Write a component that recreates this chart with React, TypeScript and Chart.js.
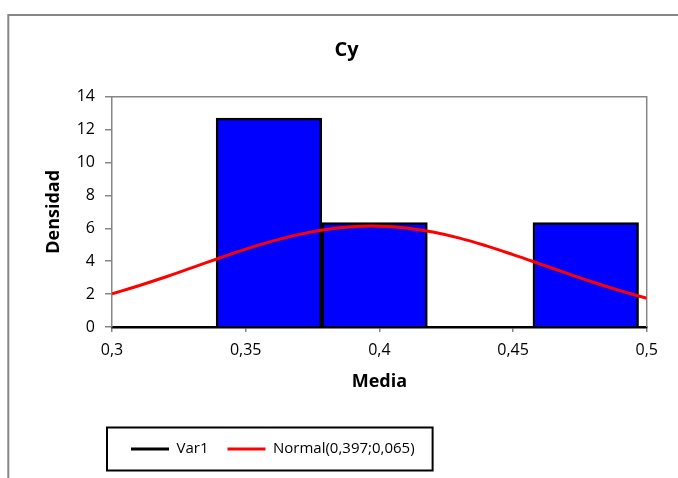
import React, { useEffect, useRef } from "react";
import { Chart, registerables } from "chart.js";

Chart.register(...registerables);

// ---- data ----
const chartTitle = "Cy";
const xAxisTitle = "Media";
const yAxisTitle = "Densidad";
const binCenters = [0.3587, 0.3982, 0.4772];
const binDensity = [12.7, 6.35, 6.35];
const normalX = [0.3, 0.31, 0.32, 0.33, 0.34, 0.35, 0.36, 0.37, 0.38, 0.39, 0.4, 0.41, 0.42, 0.43, 0.44, 0.45, 0.46, 0.47, 0.48, 0.49, 0.5];
const normalY = [2.02, 2.51, 3.04, 3.61, 4.18, 4.73, 5.22, 5.63, 5.93, 6.1, 6.13, 6.02, 5.77, 5.4, 4.93, 4.4, 3.84, 3.27, 2.72, 2.21, 1.75];
const xTickValues = [0.3, 0.35, 0.4, 0.45, 0.5];
const xTickLabels = ["0,3", "0,35", "0,4", "0,45", "0,5"];
const seriesNames = ["Var1", "Normal(0,397;0,065)"];
const seriesColors = ["#000000", "#FF0000"];

const GRAY = "#868686";

const decorPlugin = {
  id: "decor",
  beforeDraw(chart: any) {
    const ctx = chart.ctx;
    ctx.save();
    ctx.fillStyle = "#ffffff";
    ctx.fillRect(0, 0, chart.width, chart.height);
    ctx.strokeStyle = GRAY;
    ctx.lineWidth = 2;
    ctx.beginPath();
    ctx.moveTo(8.3, chart.height);
    ctx.lineTo(8.3, 15);
    ctx.lineTo(chart.width, 15);
    ctx.stroke();
    ctx.restore();
  },
  beforeDatasetsDraw(chart: any) {
    const { left, top, right, bottom } = chart.chartArea;
    const ctx = chart.ctx;
    ctx.save();
    ctx.strokeStyle = GRAY;
    ctx.lineWidth = 1.5;
    ctx.beginPath();
    ctx.moveTo(left, top);
    ctx.lineTo(right, top);
    ctx.lineTo(right, bottom);
    ctx.stroke();
    ctx.restore();
  },
  afterDraw(chart: any) {
    const lg = chart.legend;
    if (!lg || !lg.legendHitBoxes || !lg.legendHitBoxes.length) return;
    const hb = lg.legendHitBoxes;
    const first = hb[0];
    const last = hb[hb.length - 1];
    const x0 = first.left - 24;
    const x1 = last.left + last.width + 18;
    const y0 = first.top - 14;
    const y1 = first.top + first.height + 14;
    const ctx = chart.ctx;
    ctx.save();
    ctx.strokeStyle = "#000";
    ctx.lineWidth = 2;
    ctx.strokeRect(x0, y0, x1 - x0, y1 - y0);
    ctx.restore();
  },
};

export default function App() {
  const ref = useRef<HTMLCanvasElement | null>(null);

  useEffect(() => {
    if (!ref.current) return;
    Chart.defaults.font.family = "'Open Sans', sans-serif";
    const chart = new Chart(ref.current, {
      data: {
        datasets: [
          {
            type: "line",
            label: seriesNames[1],
            data: normalX.map((x, i) => ({ x, y: normalY[i] })),
            borderColor: seriesColors[1],
            borderWidth: 3,
            pointRadius: 0,
            tension: 0.4,
            fill: false,
            order: 0,
          } as any,
          {
            type: "bar",
            label: seriesNames[0],
            data: binCenters.map((x, i) => ({ x, y: binDensity[i] })),
            backgroundColor: "#0000FF",
            borderColor: "#000000",
            borderWidth: 2.5,
            borderSkipped: "bottom",
            barPercentage: 1,
            categoryPercentage: 1,
            grouped: false,
            order: 1,
          } as any,
        ],
      },
      options: {
        responsive: false,
        animation: false,
        layout: { padding: { left: 15, right: 0, top: 0, bottom: 11.5 } },
        plugins: {
          tooltip: { enabled: false },
          title: {
            display: true,
            text: chartTitle,
            color: "#000",
            font: { size: 20, weight: "bold" },
            padding: { top: 38.5, bottom: 34.2 },
            fullSize: true,
          },
          legend: {
            display: true,
            position: "bottom",
            align: "start",
            fullSize: false,
            labels: {
              boxWidth: 38,
              boxHeight: 3,
              padding: 19,
              color: "#000",
              font: { size: 15 },
              generateLabels: () =>
                seriesNames.map((name, i) => ({
                  text: name,
                  fillStyle: seriesColors[i],
                  strokeStyle: seriesColors[i],
                  lineWidth: 0,
                  hidden: false,
                  datasetIndex: i,
                })),
            },
          },
        },
        scales: {
          x: {
            type: "linear",
            position: "bottom",
            min: 0.3,
            max: 0.5,
            offset: false,
            afterBuildTicks: (s: any) => {
              s.ticks = xTickValues.map((v) => ({ value: v }));
            },
            afterFit: (s: any) => {
              s.height = 95.5;
            },
            ticks: {
              autoSkip: false,
              maxRotation: 0,
              padding: 9,
              color: "#000",
              font: { size: 16 },
              callback: (_v: any, i: number) => xTickLabels[i],
            },
            grid: { drawOnChartArea: false, drawTicks: true, tickLength: 5, color: GRAY, lineWidth: 1.5, offset: false },
            border: { color: "#000", width: 2.5 },
            title: {
              display: true,
              text: xAxisTitle,
              color: "#000",
              font: { size: 18, weight: "bold" },
              padding: { top: 0, bottom: 29.7 },
            },
          },
          y: {
            type: "linear",
            position: "left",
            min: 0,
            max: 14,
            afterFit: (s: any) => {
              s.width = 97;
            },
            ticks: { stepSize: 2, padding: 10, color: "#000", font: { size: 16 } },
            grid: { drawOnChartArea: false, drawTicks: true, tickLength: 7, color: GRAY, lineWidth: 1.5 },
            border: { color: GRAY, width: 1.5 },
            title: {
              display: true,
              text: yAxisTitle,
              color: "#000",
              font: { size: 18, weight: "bold" },
              padding: { top: 28.2, bottom: 0 },
            },
          },
          y2: {
            type: "linear",
            position: "right",
            min: 0,
            max: 1,
            display: true,
            afterFit: (s: any) => {
              s.width = 31.3;
            },
            ticks: { display: false },
            grid: { display: false },
            border: { display: false },
          },
        },
      } as any,
      plugins: [decorPlugin],
    });
    return () => chart.destroy();
  }, []);

  return (
    <canvas
      ref={ref}
      width={678}
      height={478}
      style={{ position: "absolute", left: 0, top: 0, width: 678, height: 478, display: "block" }}
    />
  );
}
